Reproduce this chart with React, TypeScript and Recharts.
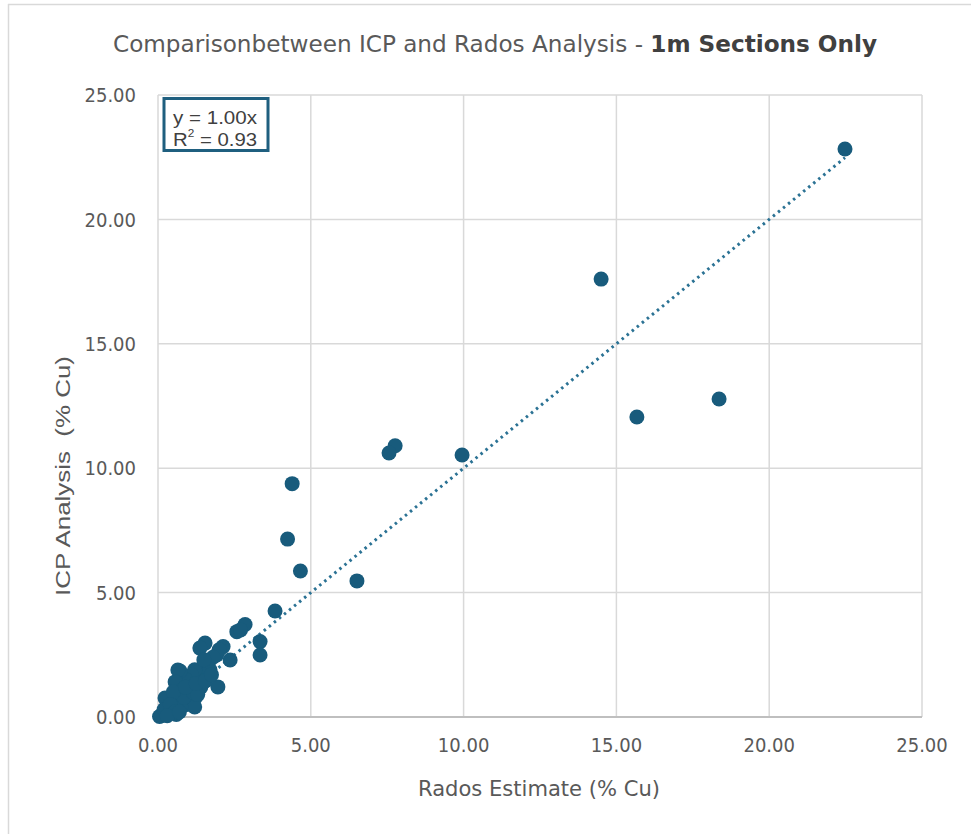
import React from 'react';
import {
  ScatterChart, Scatter, XAxis, YAxis, CartesianGrid, ReferenceLine
} from 'recharts';

// Rados estimate (% Cu) per 1m section
const radosEstimate = [
  22.48, 14.5, 15.67, 18.36, 9.95, 7.76, 7.56, 4.39, 4.24, 4.66,
  6.51, 3.83, 2.85, 2.58, 2.7, 3.34, 3.34, 1.54, 1.37, 2.13,
  2.36, 1.92, 2.0, 1.65, 1.8, 1.96, 1.6, 1.45, 1.3, 1.2,
  1.1, 1.0, 0.9, 0.72, 0.65, 0.56, 0.8, 0.7, 1.21, 1.4,
  1.7, 1.5, 0.95, 1.2, 0.6, 0.5, 0.45, 0.3, 0.23, 0.35,
  0.4, 0.25, 0.15, 0.05, 0.1, 0.2, 0.6, 0.75, 0.85, 1.15,
  1.3, 0.5, 0.4, 0.55, 0.3, 0.7, 0.9, 1.25, 1.55, 1.75,
];

// ICP analysis (% Cu), same order
const icpAnalysis = [
  22.83, 17.6, 12.06, 12.78, 10.53, 10.9, 10.61, 9.38, 7.15, 5.87,
  5.47, 4.26, 3.72, 3.43, 3.5, 3.03, 2.49, 2.97, 2.77, 2.83,
  2.29, 2.49, 2.7, 2.2, 2.4, 1.21, 1.6, 1.8, 1.5, 1.9,
  1.7, 1.3, 1.5, 1.85, 1.89, 1.41, 1.1, 0.9, 0.76, 1.2,
  1.9, 2.3, 0.5, 0.4, 0.6, 0.3, 0.75, 0.7, 0.76, 0.4,
  0.2, 0.15, 0.1, 0.02, 0.05, 0.3, 0.1, 0.4, 0.8, 1.0,
  0.9, 1.0, 0.5, 0.2, 0.05, 0.2, 1.2, 1.35, 1.45, 1.7,
];

const axisTicks = [0, 5, 10, 15, 20, 25];

// linear trend through origin, y = 1.00x, over the data range
const trendSlope = 1.0;
const trendStart = 0;
const trendEnd = 22.48;

const points = radosEstimate.map((x, i) => ({ x, y: icpAnalysis[i] }));

const MARKER = '#185b7c';
const TREND = '#2b7294';
const GREY_TEXT = '#595959';
const tickStyle = { fontFamily: '"DejaVu Sans Condensed", "DejaVu Sans"', fontSize: 20, fill: GREY_TEXT };
const boxFont = { fontFamily: '"Liberation Sans Narrow", "Liberation Sans"', fontSize: 19, fill: '#404040' };

export default function App() {
  return (
    <div style={{ position: 'fixed', left: 0, top: 0, width: 971, height: 834, overflow: 'hidden', background: '#fff' }}>
      <ScatterChart width={971} height={834} margin={{ top: 95, right: 49, bottom: 57, left: 98 }}>
        <CartesianGrid stroke="#d9d9d9" strokeWidth={1.5} />
        <XAxis
          type="number"
          dataKey="x"
          domain={[0, 25]}
          ticks={axisTicks}
          tickFormatter={(v: number) => v.toFixed(2)}
          height={60}
          tickLine={false}
          tickSize={0}
          tickMargin={21}
          axisLine={{ stroke: '#bfbfbf', strokeWidth: 2 }}
          tick={tickStyle}
        />
        <YAxis
          type="number"
          dataKey="y"
          domain={[0, 25]}
          ticks={axisTicks}
          tickFormatter={(v: number) => v.toFixed(2)}
          width={60}
          tickLine={false}
          tickSize={0}
          tickMargin={22}
          axisLine={false}
          tick={tickStyle}
        />
        <Scatter data={points} fill={MARKER} isAnimationActive={false}
          shape={(p: any) => <circle cx={p.cx} cy={p.cy} r={7.5} fill={MARKER} />} />
        <ReferenceLine
          segment={[{ x: trendStart, y: trendStart * trendSlope }, { x: trendEnd, y: trendEnd * trendSlope }]}
          stroke={TREND}
          strokeWidth={3}
          strokeDasharray="2.5 4"
        />
      </ScatterChart>
      <svg width={971} height={834} style={{ position: 'absolute', left: 0, top: 0, pointerEvents: 'none' }}>
        <line x1={8.5} y1={4} x2={8.5} y2={834} stroke="#d9d9d9" strokeWidth={1.5} />
        <line x1={8} y1={4.5} x2={971} y2={4.5} stroke="#d9d9d9" strokeWidth={1.5} />
        <text x={113} y={52} textLength={764} lengthAdjust="spacingAndGlyphs"
          style={{ fontFamily: '"DejaVu Sans Condensed", "DejaVu Sans"', fontSize: 23, fill: GREY_TEXT }}>
          Comparisonbetween ICP and Rados Analysis - <tspan fontWeight="bold" fill="#404040">1m Sections Only</tspan>
        </text>
        <text x={539} y={796} textAnchor="middle" textLength={242} lengthAdjust="spacingAndGlyphs"
          style={{ fontFamily: '"DejaVu Sans Condensed", "DejaVu Sans"', fontSize: 21, fill: GREY_TEXT }}>
          Rados Estimate (% Cu)
        </text>
        <text x={0} y={0} textAnchor="middle" transform="translate(70,476) rotate(-90)" textLength={240} lengthAdjust="spacingAndGlyphs"
          style={{ fontFamily: '"Liberation Sans", Arial', fontSize: 20, fill: GREY_TEXT, whiteSpace: 'pre' }}>
          ICP Analysis  (% Cu)
        </text>
        <rect x={164} y={98.5} width={104} height={52} fill="#fff" stroke="#1f5f7f" strokeWidth={3} />
        <text x={173} y={124} textLength={84} lengthAdjust="spacingAndGlyphs" style={boxFont}>y = 1.00x</text>
        <text x={173} y={146} textLength={84} lengthAdjust="spacingAndGlyphs" style={boxFont}>
          R<tspan fontSize={11} dy={-9}>2</tspan><tspan dy={9}> = 0.93</tspan>
        </text>
      </svg>
    </div>
  );
}
